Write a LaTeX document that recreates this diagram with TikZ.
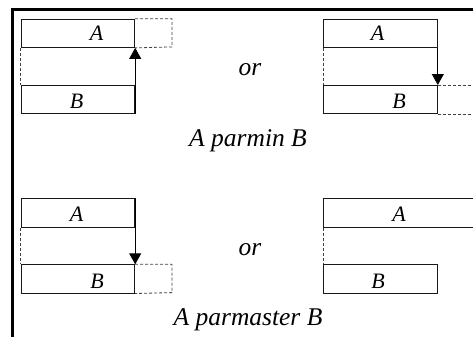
\documentclass[tikz,border=0pt]{standalone}
\usepackage{fontspec}
\setmainfont{Liberation Serif}
\usepackage{tikz}
\usetikzlibrary{arrows.meta}
\tikzset{
    blk/.style={draw=black!90,line width=0.9pt,inner sep=0pt,anchor=north west,minimum width=113.6pt,minimum height=28.3pt},
    ghost/.style={draw=black!75,line width=0.8pt,dash pattern=on 3pt off 2pt},
    lbl/.style={anchor=base,inner sep=0pt,font=\fontsize{22}{22}\selectfont\itshape},
    captxt/.style={anchor=base,inner sep=0pt,font=\fontsize{25.5}{25.5}\selectfont\itshape},
    pointer/.style={line width=0.9pt,-{Triangle[length=11pt,width=12pt]}}
}

\begin{document}
\begin{tikzpicture}[x=1pt,y=-1pt]
        \useasboundingbox (0,0) rectangle (473,337);

        %%% FRAME %%%
        \draw[line width=2.5pt] (12.7,337) -- (12.7,9.3) -- (473,9.3);

        %%% PARMIN, LEFT %%%
        \node[blk] (a1) at (20.7,18.7) {};
        \node[blk] (b1) at (20.7,85) {};
        \draw[ghost] (a1.north east) -- (172,18.7) -- (172,46.9) -- (a1.south east);
        \draw[ghost] (a1.south west) -- (b1.north west);
        \draw[pointer] (b1.south east) -- (a1.south east);
        \node[lbl] (la1) at (96.5,41) {A};
        \node[lbl] (lb1) at (76.5,108) {B};

        %%% PARMIN, RIGHT %%%
        \node[blk] (a2) at (323.3,18.7) {};
        \node[blk] (b2) at (323.3,85) {};
        \draw (b2.north east) ++(140,0) coordinate (e2);
        \draw (b2.south east) ++(140,0) coordinate (f2);
        \draw[ghost] (a2.south west) -- (b2.north west);
        \draw[ghost] (b2.north east) -- (e2);
        \draw[ghost] (b2.south east) -- (f2);
        \draw[pointer] (a2.south east) -- (b2.north east);
        \node[lbl] (la2) at (377.5,41) {A};
        \node[lbl] (lb2) at (399,108) {B};

        \node[captxt] (or1) at (250,75) {or};
        \node[captxt] (cap1) at (248,146) {A parmin B};

        %%% PARMASTER, LEFT %%%
        \node[blk] (a3) at (20.7,198.3) {};
        \node[blk] (b3) at (20.7,264.3) {};
        \draw[ghost] (b3.north east) -- (172,264.3) -- (172,292.6) -- (b3.south east);
        \draw[ghost] (a3.south west) -- (b3.north west);
        \draw[pointer] (a3.north east) -- (b3.north east);
        \node[lbl] (la3) at (76.7,221) {A};
        \node[lbl] (lb3) at (97,288) {B};

        %%% PARMASTER, RIGHT %%%
        \node[blk,minimum width=152pt] (a4) at (323.3,198.3) {};
        \node[blk] (b4) at (323.3,264.3) {};
        \draw[ghost] (a4.south west) -- (b4.north west);
        \node[lbl] (la4) at (399,221) {A};
        \node[lbl] (lb4) at (378,288) {B};

        \node[captxt] (or2) at (250,255) {or};
        \node[captxt] (cap2) at (248,325) {A parmaster B};
\end{tikzpicture}
\end{document}
